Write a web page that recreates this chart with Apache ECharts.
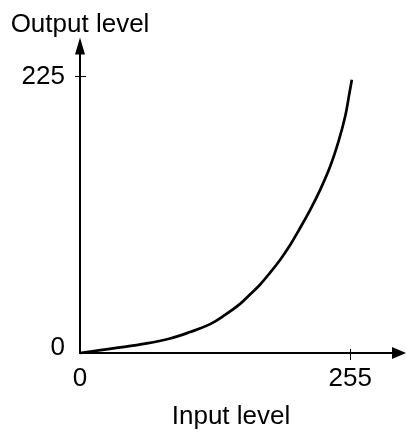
<!DOCTYPE html>
<html>
<head>
<meta charset="utf-8">
<script src="https://cdn.jsdelivr.net/npm/echarts@6/dist/echarts.min.js"></script>
<style>
  html, body { margin: 0; padding: 0; background: #fff; }
  #chart { width: 406px; height: 435px; }
</style>
</head>
<body>
<div id="chart"></div>
<script>
// Tone curve: input level -> output level
const inputLevels  = [0, 31.4, 63, 85, 103.9, 122.8, 136.9, 151.1, 160.6, 170, 179.4, 188.9, 198.3, 207.8, 217.2, 226.7, 236.1, 244, 250.3, 254.3, 256.5];
const outputLevels = [0, 3.8, 7.8, 11.8, 17.1, 23.5, 31, 40, 47.8, 55.8, 65.5, 76, 88, 102, 116.5, 133, 152, 172.5, 193, 212, 222.5];

const xTickValues = [255];
const yTickValues = [225];
const xLabelValues = [0, 255];
const yLabelValues = [0, 225];

const xName = 'Input level';
const yName = 'Output level';

const X_MAX = 301;
const Y_MAX = 250;
const FONT = '"Liberation Sans", Arial, Helvetica, sans-serif';
const INK = '#000';

const chart = echarts.init(document.getElementById('chart'), null, { renderer: 'canvas' });

const curve = inputLevels.map((x, i) => [x, outputLevels[i]]);

chart.setOption({
  animation: false,
  backgroundColor: '#fff',
  grid: { left: 80, right: 7, top: 46, bottom: 76, containLabel: false },
  xAxis: [
    {
      type: 'value', min: 0, max: X_MAX,
      name: xName, nameLocation: 'middle', nameGap: 51,
      nameTextStyle: { fontFamily: FONT, fontSize: 26, color: INK, padding: [0, 17, 0, 0] },
      axisLine: { show: true, lineStyle: { color: INK, width: 2 }, symbol: ['none', 'triangle'], symbolSize: [12, 14] },
      axisTick: { show: false },
      splitLine: { show: false },
      axisLabel: { customValues: xLabelValues, margin: 13, fontFamily: FONT, fontSize: 26, color: INK }
    },
    {
      // tick marks that cross the axis line
      type: 'value', min: 0, max: X_MAX, position: 'bottom', offset: -4,
      axisLine: { show: false },
      axisTick: { show: true, customValues: xTickValues, length: 11, lineStyle: { color: INK, width: 1 } },
      axisLabel: { show: false },
      splitLine: { show: false }
    }
  ],
  yAxis: [
    {
      type: 'value', min: 0, max: Y_MAX,
      name: yName, nameLocation: 'end', nameGap: 8,
      nameTextStyle: { fontFamily: FONT, fontSize: 26, color: INK, align: 'center' },
      axisLine: { show: true, lineStyle: { color: INK, width: 2 }, symbol: ['none', 'triangle'], symbolSize: [10, 17] },
      axisTick: { show: false },
      splitLine: { show: false },
      axisLabel: {
        customValues: yLabelValues, margin: 15,
        formatter: v => (v === 0 ? '{lift|0}' : '{n|' + v + '}'),
        rich: {
          n: { fontFamily: FONT, fontSize: 26, color: INK },
          lift: { fontFamily: FONT, fontSize: 26, color: INK, padding: [0, 0, 10, 0] }
        }
      }
    },
    {
      // tick marks that cross the axis line
      type: 'value', min: 0, max: Y_MAX, position: 'left', offset: -6,
      axisLine: { show: false },
      axisTick: { show: true, customValues: yTickValues, length: 11, lineStyle: { color: INK, width: 1 } },
      axisLabel: { show: false },
      splitLine: { show: false }
    }
  ],
  series: [{
    type: 'line',
    data: curve,
    smooth: 0.4,
    showSymbol: false,
    clip: false,
    lineStyle: { color: INK, width: 2.7 }
  }]
});
</script>
</body>
</html>
